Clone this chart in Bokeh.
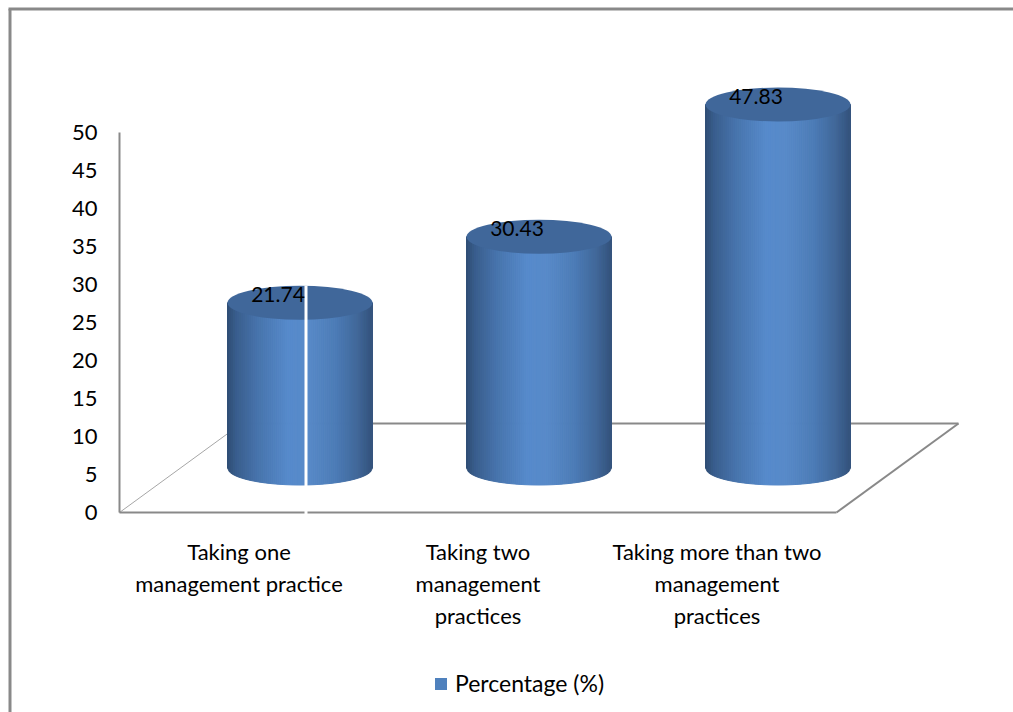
import numpy as np
from bokeh.plotting import figure
from bokeh.models import (Range1d, FixedTicker, LinearAxis, Legend, LegendItem)
from bokeh.core.properties import value
from bokeh.embed import file_html
from bokeh.resources import INLINE

# ---- data -------------------------------------------------------------
categories = [
    "Taking one\nmanagement practice",
    "Taking two\nmanagement\npractices",
    "Taking more than two\nmanagement\npractices",
]
percentages = [21.74, 30.43, 47.83]
y_ticks = [0, 5, 10, 15, 20, 25, 30, 35, 40, 45, 50]
series_name = "Percentage (%)"

# ---- layout constants (canvas pixels) ----------------------------------
W, H = 1013, 712
AXIS_PX = 119               # column of the value axis / floor front-left corner
ZERO_PX = 512               # row of the value 0 on the front plane
PX_PER_CAT = 239.0          # pixels per category slot
PX_PER_UNIT = 7.6           # pixels per percentage point


def dx(px):
    """canvas column -> x data coordinate"""
    return (px - AXIS_PX) / PX_PER_CAT - 0.5


def dy(px):
    """canvas row -> y data coordinate"""
    return (ZERO_PX - px) / PX_PER_UNIT


# 3-D look: floor depth and cylinder radii in axis units
DEPTH_X = 122 / PX_PER_CAT
DEPTH_Y = 89 / PX_PER_UNIT
RX = 72.5 / PX_PER_CAT
RY = 17 / PX_PER_UNIT

FONT = value("Lato")
GRAY = "#898989"
TOP_COLOR = "#40679a"
SERIES_COLOR = "#4f81bd"

p = figure(width=W, height=H,
           x_range=Range1d(dx(0), dx(W)), y_range=Range1d(dy(H), dy(0)),
           x_axis_type=None, y_axis_type=None,
           output_backend="svg", toolbar_location=None,
           min_border=0)
p.outline_line_color = None
p.background_fill_color = "white"
p.border_fill_color = "white"

n = len(categories)

# ---- axes -------------------------------------------------------------
yaxis = LinearAxis(ticker=FixedTicker(ticks=y_ticks), bounds=(0, 50),
                   fixed_location=-0.5)
yaxis.axis_line_color = GRAY
yaxis.axis_line_width = 2
yaxis.major_tick_line_color = None
yaxis.minor_tick_line_color = None
yaxis.major_tick_out = 0
yaxis.major_tick_in = 0
yaxis.major_label_standoff = 22
yaxis.major_label_text_font = "Lato"
yaxis.major_label_text_font_size = "22px"
yaxis.major_label_text_color = "black"
p.add_layout(yaxis, "left")

xaxis = LinearAxis(ticker=FixedTicker(ticks=list(range(n))),
                   fixed_location=dy(527))
xaxis.major_label_overrides = {i: c for i, c in enumerate(categories)}
xaxis.axis_line_color = None
xaxis.major_tick_line_color = None
xaxis.minor_tick_line_color = None
xaxis.major_tick_out = 0
xaxis.major_tick_in = 0
xaxis.major_label_standoff = 10
xaxis.major_label_text_font = "Lato"
xaxis.major_label_text_font_size = "22px"
xaxis.major_label_text_color = "black"
xaxis.major_label_text_align = "center"
p.add_layout(xaxis, "below")

# ---- outer chart border (left and top edges) ---------------------------
p.line([dx(9.5), dx(9.5)], [dy(8.5), dy(H + 5)], line_color=GRAY, line_width=3)
p.line([dx(8), dx(W + 5)], [dy(8.5), dy(8.5)], line_color=GRAY, line_width=3)

# ---- floor -------------------------------------------------------------
x0, x1 = -0.5, n - 0.5
p.line([x0 + DEPTH_X, x1 + DEPTH_X], [DEPTH_Y, DEPTH_Y], line_color=GRAY, line_width=2)
p.line([x0, x0 + DEPTH_X], [0, DEPTH_Y], line_color="#a6a6a6", line_width=1)
p.line([x1, x1 + DEPTH_X], [0, DEPTH_Y], line_color=GRAY, line_width=2)
p.line([x0, x1], [0, 0], line_color=GRAY, line_width=2)

# ---- cylinders ---------------------------------------------------------
stops_t = np.array([0.0, 0.06, 0.20, 0.42, 0.55, 0.75, 0.90, 1.0])
stops_c = np.array([
    [0x2e, 0x4c, 0x73], [0x39, 0x5d, 0x8c], [0x46, 0x72, 0xaa],
    [0x56, 0x8a, 0xcb], [0x58, 0x8a, 0xc9], [0x4c, 0x7b, 0xb6],
    [0x41, 0x67, 0x99], [0x34, 0x53, 0x7c]], dtype=float)


def shade(t):
    rgb = [np.interp(t, stops_t, stops_c[:, k]) for k in range(3)]
    return "#%02x%02x%02x" % tuple(int(round(v)) for v in rgb)


N_STRIPS = 72
edges = np.linspace(-1, 1, N_STRIPS + 1)
base_y = DEPTH_Y / 2
cx_list = [i + DEPTH_X / 2 for i in range(n)]
top_list = [base_y + v for v in percentages]

xs, ys, cols = [], [], []
for cx, top in zip(cx_list, top_list):
    for j in range(N_STRIPS):
        u0, u1 = edges[j], edges[j + 1]
        xa, xb = cx + RX * u0, cx + RX * u1
        ya = base_y - RY * np.sqrt(max(0.0, 1 - u0 * u0))
        yb = base_y - RY * np.sqrt(max(0.0, 1 - u1 * u1))
        xs.append([xa, xb, xb, xa])
        ys.append([ya, yb, top, top])
        cols.append(shade((0.5 * (u0 + u1) + 1) / 2))

p.patches(xs=xs, ys=ys, fill_color=cols, line_color=cols, line_width=1)
p.ellipse(x=cx_list, y=top_list, width=2 * RX, height=2 * RY,
          fill_color=TOP_COLOR, line_color=None)

# thin white seam on the first cylinder
seam_x = cx_list[0] + 6 / PX_PER_CAT
p.line([seam_x, seam_x], [-0.4, top_list[0] + RY], line_color="white", line_width=3)

# ---- data labels --------------------------------------------------------
p.text(x=[c - 22 / PX_PER_CAT for c in cx_list],
       y=[t + 8 / PX_PER_UNIT for t in top_list],
       text=["%.2f" % v for v in percentages],
       text_font=FONT, text_font_size="21px", text_color="black",
       text_align="center", text_baseline="middle")

# ---- legend -------------------------------------------------------------
# legend swatch renderer: a single off-screen quad in the series colour
swatch = p.quad(left=[np.nan], right=[np.nan], top=[np.nan], bottom=[np.nan],
                fill_color=SERIES_COLOR, line_color=None)
legend = Legend(items=[LegendItem(label=series_name, renderers=[swatch])],
                location=(433, 15), orientation="horizontal",
                glyph_width=15, glyph_height=15, label_standoff=7,
                padding=0, margin=0, spacing=0,
                border_line_color=None, background_fill_alpha=0,
                label_text_font="Lato", label_text_font_size="23px",
                label_text_color="black")
p.add_layout(legend, "center")

open("out.html", "w").write(file_html(p, INLINE))
